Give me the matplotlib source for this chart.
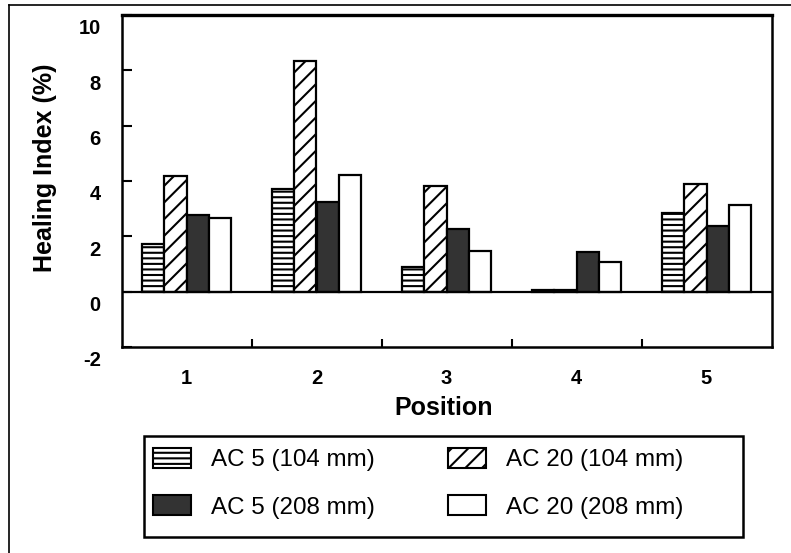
import matplotlib
matplotlib.use('agg')
import matplotlib.pyplot as plt
import numpy as np
from matplotlib.patches import Patch, Rectangle
from matplotlib.lines import Line2D
from matplotlib.transforms import ScaledTranslation

# data
positions = ['1', '2', '3', '4', '5']
ac5_104 = [1.71, 3.70, 0.90, 0.05, 2.83]
ac20_104 = [4.19, 8.34, 3.82, 0.05, 3.88]
ac5_208 = [2.77, 3.25, 2.28, 1.42, 2.37]
ac20_208 = [2.65, 4.22, 1.48, 1.08, 3.14]
series_labels = ['AC 5 (104 mm)', 'AC 20 (104 mm)', 'AC 5 (208 mm)', 'AC 20 (208 mm)']
y_ticks = [-2, 0, 2, 4, 6, 8, 10]

W, H = 791, 553


def fx(px):
    return px / W


def fy(py):
    return 1 - py / H


plt.rcParams['font.family'] = ['Liberation Sans', 'DejaVu Sans']
plt.rcParams['hatch.linewidth'] = 1.5

fig = plt.figure(figsize=(W / 100, H / 100), dpi=100)
fig.patch.set_facecolor('white')
ax = fig.add_axes([fx(121.5), fy(347), fx(771.5) - fx(121.5), fy(15) - fy(347)])

styles = [
    dict(facecolor='white', hatch='---'),
    dict(facecolor='white', hatch='//'),
    dict(facecolor='#333333', hatch=None),
    dict(facecolor='white', hatch=None),
]
series = [ac5_104, ac20_104, ac5_208, ac20_208]

x = np.arange(1, len(positions) + 1)
w = 0.17
for i, (vals, st) in enumerate(zip(series, styles)):
    ax.bar(x + (i - 1.5) * w, vals, w, edgecolor='black', linewidth=1.6,
           label=series_labels[i], zorder=3, **st)

ax.axhline(0, color='black', lw=1.6, zorder=4)

ax.set_xlim(0.5, 5.5)
ax.set_ylim(-2, 10)
ax.set_xticks(x)
ax.set_xticklabels(positions, fontsize=14.5, fontweight='bold')
ax.set_xticks(np.arange(1.5, 5.5, 1.0), minor=True)
ax.tick_params(axis='x', which='major', length=0, pad=16)
ax.tick_params(axis='x', which='minor', direction='in', length=6, width=1.5)
ax.set_yticks(y_ticks)
ax.set_yticklabels([str(v) for v in y_ticks], fontsize=14.5, fontweight='bold')
ax.tick_params(axis='y', direction='in', length=7, width=1.5, pad=15)

for lab in ax.get_yticklabels():
    lab.set_transform(lab.get_transform() + ScaledTranslation(0, -0.12, fig.dpi_scale_trans))

for s in ax.spines.values():
    s.set_linewidth(1.8)
ax.spines['top'].set_linewidth(2.4)

fig.text(fx(45), fy(168), 'Healing Index (%)', rotation=90, ha='center', va='center',
         fontsize=18, fontweight='bold')
fig.text(fx(444), fy(408), 'Position', ha='center', va='center',
         fontsize=18, fontweight='bold')

# legend: framed box drawn separately so it can be wider than its content
fig.patches.append(Rectangle((fx(144), fy(537)), fx(743) - fx(144), fy(436) - fy(537),
                             transform=fig.transFigure, fill=False, lw=1.8,
                             edgecolor='black'))
handles = [Patch(edgecolor='black', linewidth=1.5, **styles[k]) for k in (0, 2, 1, 3)]
labels = [series_labels[k] for k in (0, 2, 1, 3)]
fig.legend(handles, labels, loc='upper left', bbox_to_anchor=(fx(153), fy(448)),
           frameon=False, ncol=2, fontsize=17.4, handlelength=1.58, handleheight=0.88,
           handletextpad=0.8, columnspacing=3.05, labelspacing=1.0,
           borderpad=0, borderaxespad=0)

# page border of the scan
fig.lines.append(Line2D([fx(8.5), fx(8.5)], [0, fy(4.5)], transform=fig.transFigure,
                        color='black', lw=1.2))
fig.lines.append(Line2D([fx(8.5), 1], [fy(4.5), fy(4.5)], transform=fig.transFigure,
                        color='black', lw=1.2))

fig.savefig('out.png', dpi=100)
